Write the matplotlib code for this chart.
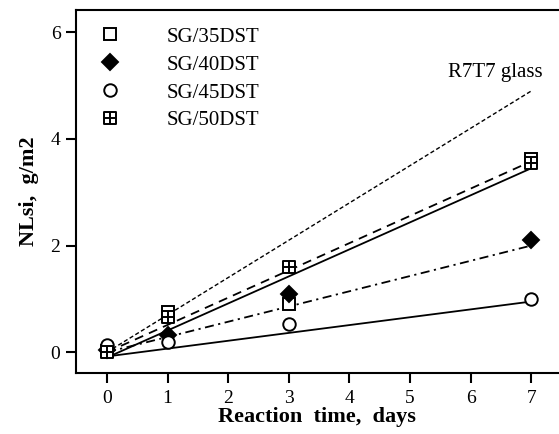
import matplotlib
matplotlib.use("Agg")
import matplotlib.pyplot as plt
import numpy as np
from matplotlib.path import Path

plt.rcParams['font.family'] = ['Liberation Serif', 'DejaVu Serif']

days = [0, 1, 3, 7]
sg35 = [0.03, 0.76, 0.9, 3.63]
sg40 = [0.05, 0.33, 1.1, 2.1]
sg45 = [0.13, 0.2, 0.52, 1.0]
sg50 = [0.0, 0.66, 1.6, 3.55]
labels = ['SG/35DST', 'SG/40DST', 'SG/45DST', 'SG/50DST']

# fitted lines, values at day 0 and day 7
fit_x = [0, 7]
fit_r7t7 = [0.0, 4.9]
fit_50 = [0.0, 3.58]
fit_35 = [-0.1, 3.45]
fit_40 = [0.0, 2.0]
fit_45 = [-0.08, 0.95]

# square with a cross inside
boxplus = Path([(-1, -1), (1, -1), (1, 1), (-1, 1), (-1, -1),
                (0, -1), (0, 1), (-1, 0), (1, 0)],
               [Path.MOVETO, Path.LINETO, Path.LINETO, Path.LINETO, Path.CLOSEPOLY,
                Path.MOVETO, Path.LINETO, Path.MOVETO, Path.LINETO])

fig = plt.figure(figsize=(5.59, 4.34), dpi=100)
ax = fig.add_axes([0.136, 0.1406, 0.862, 0.8364])

ax.plot(fit_x, fit_r7t7, color='black', lw=1.0, dashes=(3, 1.8))
ax.plot(fit_x, fit_50, color='black', lw=1.3, dashes=(5, 3.5))
ax.plot(fit_x, fit_35, color='black', lw=1.3)
ax.plot(fit_x, fit_40, color='black', lw=1.3, dashes=(5, 2.5, 1.2, 2.5))
ax.plot(fit_x, fit_45, color='black', lw=1.3)

mk = dict(ls='none', color='black', mec='black', mew=1.4, zorder=5)
h1, = ax.plot(days, sg35, marker='s', ms=8.5, mfc='white', label=labels[0], **mk)
h2, = ax.plot(days, sg40, marker='D', ms=8.5, mfc='black', label=labels[1], **mk)
h3, = ax.plot(days, sg45, marker='o', ms=9, mfc='white', label=labels[2], **mk)
h4, = ax.plot(days, sg50, marker=boxplus, ms=8, mfc='white', label=labels[3], **mk)

ax.text(5.62, 5.25, 'R7T7 glass', fontsize=15, va='center')

ax.legend(handles=[h1, h2, h3, h4], loc='upper left', bbox_to_anchor=(0.019, 0.993),
          frameon=False, fontsize=15, handlelength=1.0, handletextpad=2.2,
          labelspacing=0.4, borderpad=0.2)

ax.set_xlim(-0.51, 7.44)
ax.set_ylim(-0.39, 6.42)
ax.set_xticks(range(8))
ax.set_yticks([0, 2, 4, 6])
ax.tick_params(direction='out', length=7.2, width=1.5, labelsize=14, pad=4)
ax.tick_params(axis='x', pad=5)
ax.spines['right'].set_visible(False)
for s in ['left', 'bottom', 'top']:
    ax.spines[s].set_linewidth(1.5)
ax.tick_params(top=False, right=False)

ax.set_xlabel('Reaction  time,  days', fontsize=16, fontweight='bold', labelpad=0)
ax.set_ylabel('NLsi,  g/m2', fontsize=16, fontweight='bold', labelpad=8)

fig.savefig('out.png', dpi=100)
